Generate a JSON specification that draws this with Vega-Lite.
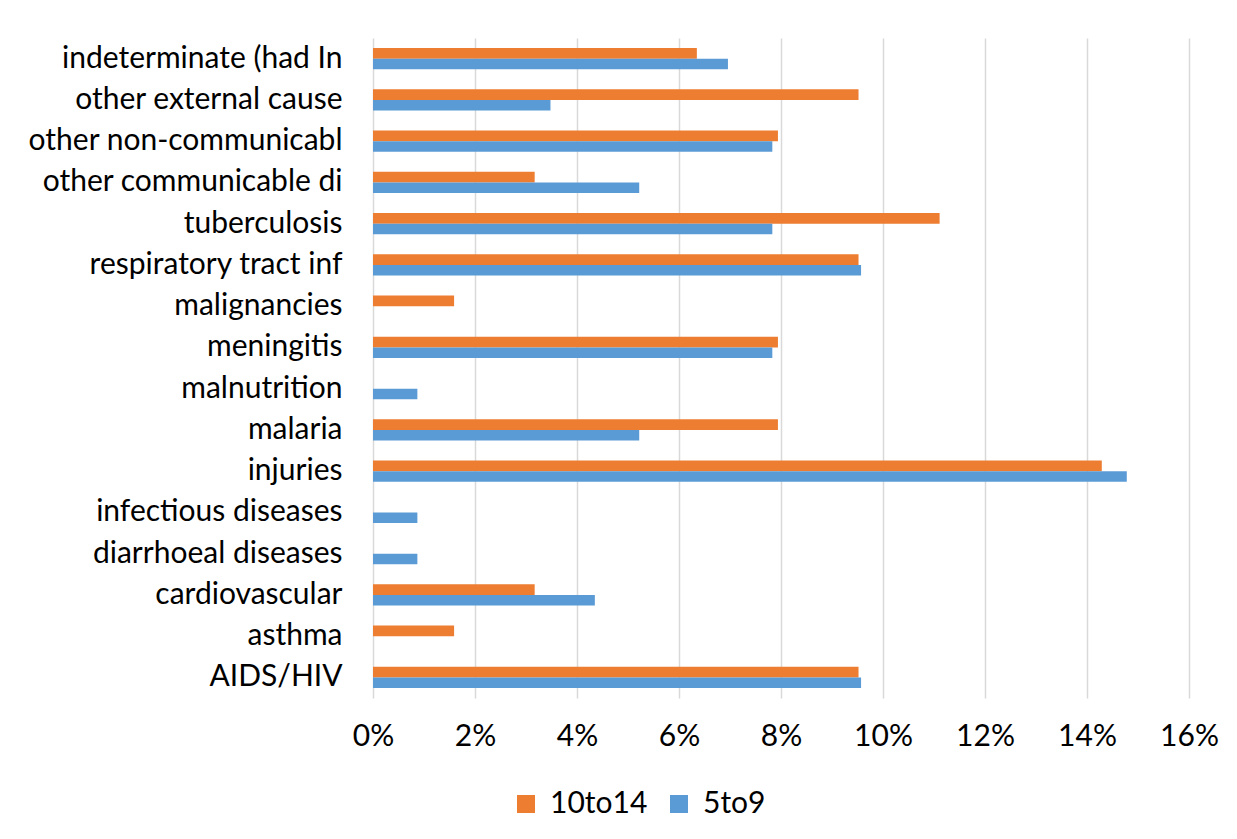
{
  "$schema": "https://vega.github.io/schema/vega-lite/v6.json",
  "width": 816,
  "height": 660,
  "autosize": {"type": "none"},
  "padding": {"left": 373, "top": 38, "right": 48, "bottom": 141},
  "background": "white",
  "config": {"view": {"stroke": null}, "font": "Lato"},
  "data": {
    "values": [
      {"cause": "indeterminate (had In", "age": "10to14", "share": 0.0635},
      {"cause": "indeterminate (had In", "age": "5to9", "share": 0.0696},
      {"cause": "other external cause", "age": "10to14", "share": 0.0952},
      {"cause": "other external cause", "age": "5to9", "share": 0.0348},
      {"cause": "other non-communicabl", "age": "10to14", "share": 0.0794},
      {"cause": "other non-communicabl", "age": "5to9", "share": 0.0783},
      {"cause": "other communicable di", "age": "10to14", "share": 0.0317},
      {"cause": "other communicable di", "age": "5to9", "share": 0.0522},
      {"cause": "tuberculosis", "age": "10to14", "share": 0.1111},
      {"cause": "tuberculosis", "age": "5to9", "share": 0.0783},
      {"cause": "respiratory tract inf", "age": "10to14", "share": 0.0952},
      {"cause": "respiratory tract inf", "age": "5to9", "share": 0.0957},
      {"cause": "malignancies", "age": "10to14", "share": 0.0159},
      {"cause": "malignancies", "age": "5to9", "share": 0},
      {"cause": "meningitis", "age": "10to14", "share": 0.0794},
      {"cause": "meningitis", "age": "5to9", "share": 0.0783},
      {"cause": "malnutrition", "age": "10to14", "share": 0},
      {"cause": "malnutrition", "age": "5to9", "share": 0.0087},
      {"cause": "malaria", "age": "10to14", "share": 0.0794},
      {"cause": "malaria", "age": "5to9", "share": 0.0522},
      {"cause": "injuries", "age": "10to14", "share": 0.1429},
      {"cause": "injuries", "age": "5to9", "share": 0.1478},
      {"cause": "infectious diseases", "age": "10to14", "share": 0},
      {"cause": "infectious diseases", "age": "5to9", "share": 0.0087},
      {"cause": "diarrhoeal diseases", "age": "10to14", "share": 0},
      {"cause": "diarrhoeal diseases", "age": "5to9", "share": 0.0087},
      {"cause": "cardiovascular", "age": "10to14", "share": 0.0317},
      {"cause": "cardiovascular", "age": "5to9", "share": 0.0435},
      {"cause": "asthma", "age": "10to14", "share": 0.0159},
      {"cause": "asthma", "age": "5to9", "share": 0},
      {"cause": "AIDS/HIV", "age": "10to14", "share": 0.0952},
      {"cause": "AIDS/HIV", "age": "5to9", "share": 0.0957}
    ]
  },
  "mark": {"type": "bar"},
  "encoding": {
    "y": {
      "field": "cause",
      "type": "nominal",
      "sort": [
        "indeterminate (had In", "other external cause", "other non-communicabl",
        "other communicable di", "tuberculosis", "respiratory tract inf",
        "malignancies", "meningitis", "malnutrition", "malaria", "injuries",
        "infectious diseases", "diarrhoeal diseases", "cardiovascular",
        "asthma", "AIDS/HIV"
      ],
      "scale": {"paddingInner": 0.49, "paddingOuter": 0.245},
      "axis": {
        "title": null,
        "domain": false,
        "ticks": false,
        "grid": false,
        "labelFontSize": 30,
        "labelColor": "#000000",
        "labelPadding": 31,
        "labelLimit": 400
      }
    },
    "yOffset": {"field": "age", "type": "nominal", "sort": ["10to14", "5to9"]},
    "x": {
      "field": "share",
      "type": "quantitative",
      "scale": {"domain": [0, 0.16], "nice": false},
      "axis": {
        "title": null,
        "format": ".0%",
        "values": [0, 0.02, 0.04, 0.06, 0.08, 0.1, 0.12, 0.14, 0.16],
        "grid": true,
        "gridColor": "#d9d9d9",
        "gridWidth": 1.5,
        "domain": false,
        "ticks": false,
        "labelFontSize": 30,
        "labelColor": "#000000",
        "labelPadding": 23,
        "labelFlush": false
      }
    },
    "color": {
      "field": "age",
      "type": "nominal",
      "scale": {"domain": ["10to14", "5to9"], "range": ["#ED7D31", "#5B9BD5"]},
      "legend": {
        "title": null,
        "orient": "none",
        "direction": "horizontal",
        "legendX": 138,
        "legendY": 751,
        "symbolType": "square",
        "symbolSize": 324,
        "symbolStrokeWidth": 0,
        "labelFontSize": 30,
        "labelColor": "#000000",
        "labelOffset": 9,
        "columnPadding": 16
      }
    }
  }
}
